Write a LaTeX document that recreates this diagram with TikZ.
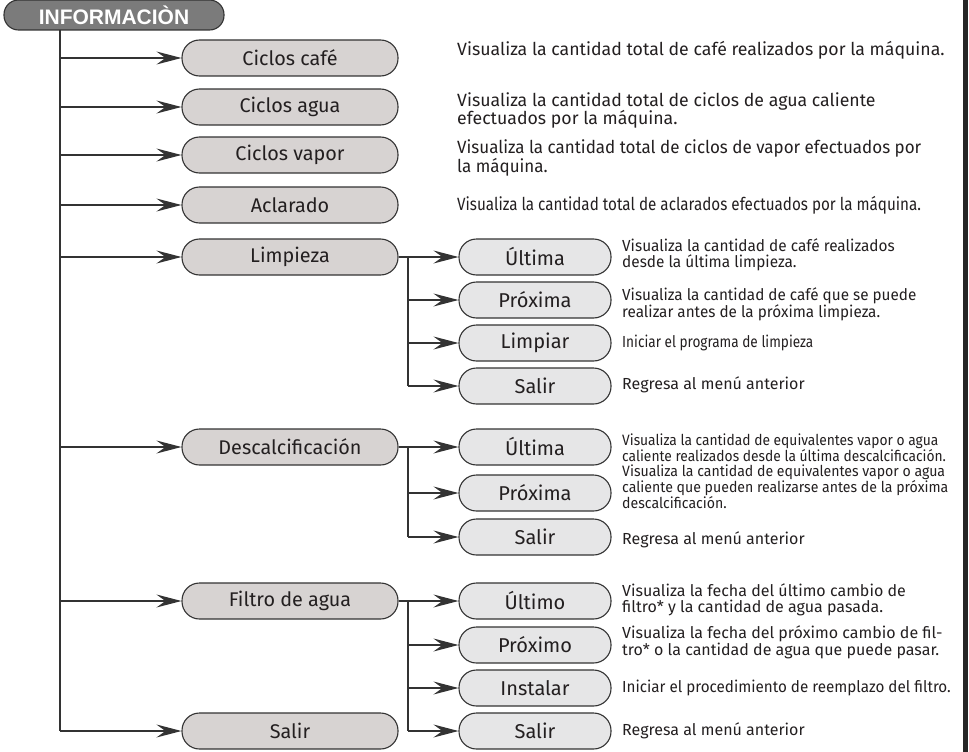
\documentclass[tikz,border=0pt]{standalone}
\usepackage{fontspec}
\setmainfont{Fira Sans}
\newfontfamily\hdrfont{Liberation Sans}
\usetikzlibrary{arrows.meta,positioning}
\definecolor{hdrfill}{HTML}{7B7B7B}
\definecolor{lonefill}{HTML}{D7D3D2}
\definecolor{ltwofill}{HTML}{E6E6E7}
\definecolor{linec}{HTML}{333333}
\definecolor{txtc}{HTML}{231F20}
\newcommand\dfont[3]{\fontsize{#1}{#2}\selectfont\addfontfeatures{FakeStretch=#3}}
\tikzset{
  x=1pt,y=-1pt,
  pill/.style={draw=linec,line width=1.1pt,rounded corners=17.5pt,minimum height=36pt,inner sep=0pt,text=txtc},
  lone/.style={pill,fill=lonefill,minimum width=216pt,font=\fontsize{19.8}{20}\selectfont},
  ltwo/.style={pill,fill=ltwofill,minimum width=152pt,font=\fontsize{20}{20}\selectfont},
  hdr/.style={draw=linec,line width=1.1pt,fill=hdrfill,rounded corners=14.5pt,minimum height=30pt,minimum width=220pt,inner sep=0pt,text=white,font=\hdrfont\bfseries\fontsize{21}{22}\selectfont},
  desc/.style={anchor=west,align=left,inner sep=0pt,text=txtc},
  conn/.style={draw=linec,line width=1.2pt},
  arr/.style={conn,-{Stealth[length=25pt,width=13pt,inset=9pt]}},
}
\begin{document}
\begin{tikzpicture}
\useasboundingbox (0,0) rectangle (969,752);
\fill[black!85] (963,0) rectangle (968,752);
% header
\node[hdr] (info) at (114,15) {INFORMACIÒN};
% level 1
\node[lone] (cafe) at (290,58) {Ciclos café};
\node[lone] (agua) at (290,107) {Ciclos agua};
\node[lone] (vapor) at (290,155) {Ciclos vapor};
\node[lone] (aclar) at (290,205) {Aclarado};
\node[lone] (limp) at (290,257) {Limpieza};
\node[lone] (desc) at (290,447) {Descalcificación};
\node[lone] (filt) at (290,601) {Filtro de agua};
\node[lone] (salir) at (290,731) {Salir};
% level 2
\node[ltwo] (lult) at (535,257) {Última};
\node[ltwo] (lpro) at (535,300) {Próxima};
\node[ltwo] (llim) at (535,343) {Limpiar};
\node[ltwo] (lsal) at (535,386) {Salir};
\node[ltwo] (dult) at (535,447) {Última};
\node[ltwo] (dpro) at (535,493) {Próxima};
\node[ltwo] (dsal) at (535,537) {Salir};
\node[ltwo] (fult) at (535,601) {Último};
\node[ltwo] (fpro) at (535,645) {Próximo};
\node[ltwo] (fins) at (535,688) {Instalar};
\node[ltwo] (fsal) at (535,731) {Salir};
% main trunk
\coordinate (trunk) at (60,30);
\draw[conn] (trunk) -- (60,731);
\foreach \n in {cafe,agua,vapor,aclar,limp,desc,filt,salir}
  \draw[arr] (60,0 |- \n.west) -- (\n.west);
% branches
\draw[conn] (limp.east) -- (408,257) -- (408,386);
\foreach \n in {lult,lpro,llim,lsal}
  \draw[arr] (408,0 |- \n.west) -- (\n.west);
\draw[conn] (desc.east) -- (408,447) -- (408,537);
\foreach \n in {dult,dpro,dsal}
  \draw[arr] (408,0 |- \n.west) -- (\n.west);
\draw[conn] (filt.east) -- (408,601) -- (408,731);
\foreach \n in {fult,fpro,fins,fsal}
  \draw[arr] (408,0 |- \n.west) -- (\n.west);
% descriptions
\node[desc,font=\dfont{17.7}{17}{1}] (tcafe) at (457,50) {Visualiza la cantidad total de café realizados por la máquina.};
\node[desc,font=\dfont{17.7}{17}{1}] (tagua) at (457,110.5) {Visualiza la cantidad total de ciclos de agua caliente\\efectuados por la máquina.};
\node[desc,font=\dfont{17.7}{16}{0.96}] (tvapor) at (457,158) {Visualiza la cantidad total de ciclos de vapor efectuados por\\la máquina.};
\node[desc,font=\dfont{17.7}{17}{0.86}] (taclar) at (457,205) {Visualiza la cantidad total de aclarados efectuados por la máquina.};
\node[desc,font=\dfont{16}{16}{0.96}] (tlult) at (622,255) {Visualiza la cantidad de café realizados\\desde la última limpieza.};
\node[desc,font=\dfont{16}{14}{0.955}] (tlpro) at (622,304) {Visualiza la cantidad de café que se puede\\realizar antes de la próxima limpieza.};
\node[desc,font=\dfont{16}{16}{0.85}] (tllim) at (622,343) {Iniciar el programa de limpieza};
\node[desc,font=\dfont{16}{16}{1}] (tlsal) at (622,385) {Regresa al menú anterior};
\node[desc,font=\dfont{15}{15}{0.92}] (tdult) at (622,447.5) {Visualiza la cantidad de equivalentes vapor o agua\\caliente realizados desde la última descalcificación.};
\node[desc,font=\dfont{15}{13}{0.94}] (tdpro) at (622,487) {Visualiza la cantidad de equivalentes vapor o agua\\caliente que pueden realizarse antes de la próxima\\descalcificación.};
\node[desc,font=\dfont{16}{16}{1}] (tdsal) at (622,540) {Regresa al menú anterior};
\node[desc,font=\dfont{16}{16}{1}] (tfult) at (622,600) {Visualiza la fecha del último cambio de\\filtro* y la cantidad de agua pasada.};
\node[desc,font=\dfont{16}{15}{1}] (tfpro) at (622,642.5) {Visualiza la fecha del próximo cambio de fil-\\tro* o la cantidad de agua que puede pasar.};
\node[desc,font=\dfont{16}{16}{0.95}] (tfins) at (622,688) {Iniciar el procedimiento de reemplazo del filtro.};
\node[desc,font=\dfont{16}{16}{1}] (tfsal) at (622,731) {Regresa al menú anterior};
\end{tikzpicture}
\end{document}
